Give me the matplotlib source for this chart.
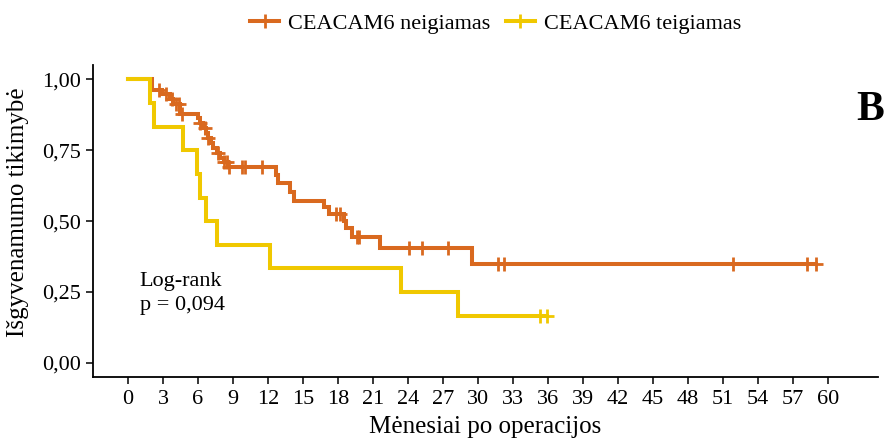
import numpy as np
import matplotlib
matplotlib.use("Agg")
import matplotlib.pyplot as plt
from matplotlib.lines import Line2D

# Kaplan-Meier steps (time in months, survival after the drop)
neg_times = [0, 2.1, 2.9, 3.6, 3.9, 4.5, 6.0, 6.2, 6.4, 6.7, 6.9, 7.1, 7.3, 7.6, 7.9,
             8.2, 8.6, 12.7, 12.9, 13.9, 14.2, 16.8, 17.2, 18.5, 18.7, 19.2, 21.6, 29.5]
neg_surv = [1.0, 0.961, 0.947, 0.930, 0.914, 0.879, 0.862, 0.845, 0.828, 0.810, 0.793,
            0.776, 0.759, 0.741, 0.724, 0.707, 0.691, 0.664, 0.633, 0.602, 0.571, 0.550,
            0.525, 0.500, 0.475, 0.445, 0.404, 0.347]
neg_cens = [2.7, 3.3, 3.8, 4.1, 4.4, 4.6, 6.2, 6.6, 6.9, 7.7, 8.2, 8.5, 8.7, 9.8, 10.0,
            11.5, 17.8, 18.2, 19.6, 19.8, 24.1, 25.2, 27.4, 31.7, 32.2, 51.9, 58.2, 59.0]

pos_times = [0, 1.9, 2.2, 4.7, 5.9, 6.2, 6.7, 7.6, 12.2, 23.4, 28.3]
pos_surv = [1.0, 0.917, 0.833, 0.750, 0.667, 0.583, 0.500, 0.417, 0.333, 0.250, 0.167]
pos_cens = [35.3, 35.9]

labels = ["CEACAM6 neigiamas", "CEACAM6 teigiamas"]
colors = ["#d9691f", "#f0c800"]
xticks = np.arange(0, 61, 3)
yticks = [0, 0.25, 0.5, 0.75, 1.0]
yticklabels = ["0,00", "0,25", "0,50", "0,75", "1,00"]

plt.rcParams['font.family'] = ['Liberation Serif', 'DejaVu Serif']

fig = plt.figure(figsize=(8.9, 4.4), dpi=100)
ax = fig.add_axes([0.1045, 0.143, 0.882, 0.709])

def km(ax, t, s, cens, color):
    t = np.array(t)
    s = np.array(s)
    end = max(max(cens), t[-1])
    tt = np.append(t, end)
    ss = np.append(s, s[-1])
    ax.step(tt, ss, where='post', color=color, lw=2.9, solid_joinstyle='miter')
    cy = s[np.searchsorted(t, cens, side='right') - 1]
    ax.plot(cens, cy, ls='none', marker='+', ms=10, mew=2, color=color)

km(ax, neg_times, neg_surv, neg_cens, colors[0])
km(ax, pos_times, pos_surv, pos_cens, colors[1])

ax.set_xlim(-3, 64.3)
ax.set_ylim(-0.05, 1.05)
ax.set_xticks(xticks)
ax.set_yticks(yticks)
ax.set_yticklabels(yticklabels)
for sp in ['top', 'right']:
    ax.spines[sp].set_visible(False)
for sp in ['left', 'bottom']:
    ax.spines[sp].set_linewidth(1.3)
ax.tick_params(axis='both', length=5, width=1.1, labelsize=16, pad=4)
ax.set_xlabel("Mėnesiai po operacijos", fontsize=18, labelpad=5)
ax.set_ylabel("Išgyvenamumo tikimybė", fontsize=18)
ax.yaxis.set_label_coords(-0.082, 0.529)

ax.text(1, 0.246, "Log-rank\np = 0,094", fontsize=16, va='center', ha='left', linespacing=1.35)
ax.text(0.99, 0.856, "B", transform=ax.transAxes, fontsize=30, fontweight='bold',
        ha='center', va='center')

handles = [Line2D([], [], color=c, lw=2.9, marker='+', ms=10, mew=2) for c in colors]
fig.legend(handles, labels, loc='upper center', bbox_to_anchor=(0.557, 1.015), ncol=2,
           frameon=False, fontsize=16, handlelength=1.3, columnspacing=0.7, handletextpad=0.4)

fig.savefig("out.png", dpi=100)
